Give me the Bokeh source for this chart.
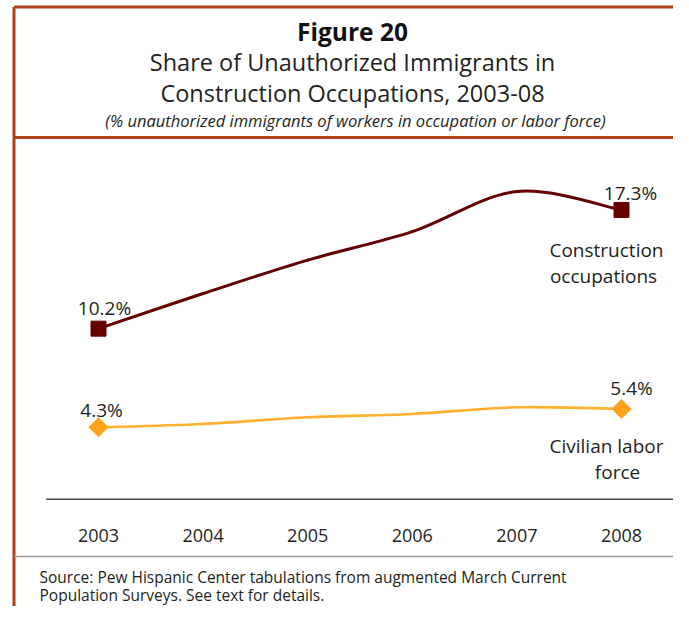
import numpy as np
from bokeh.plotting import figure
from bokeh.models import Range1d
from bokeh.core.properties import value
from bokeh.embed import file_html
from bokeh.resources import INLINE

# ---------------- data ----------------
years = [2003, 2004, 2005, 2006, 2007, 2008]
year_labels = ["2003", "2004", "2005", "2006", "2007", "2008"]
construction = [10.2, 12.3, 14.3, 16.0, 18.4, 17.3]
civilian = [4.3, 4.5, 4.9, 5.1, 5.5, 5.4]
construction_name = ["Construction", "occupations"]
civilian_name = ["Civilian labor", "force"]
fig_label = "Figure 20"
title_lines = ["Share of Unauthorized Immigrants in", "Construction Occupations, 2003-08"]
note = "(% unauthorized immigrants of workers in occupation or labor force)"
source_lines = ["Source:  Pew Hispanic Center tabulations from augmented March Current",
                "Population Surveys.  See text for details."]

# ---------------- layout ----------------
W, H = 673, 606
FONT = value("Open Sans")
TXT = "#231f20"
BORDER = "#b03f1c"
CON_COL = "#640000"
CIV_LINE = "#ffb02e"
CIV_MARK = "#ffa31f"

ppy = (621 - 98) / 5.0          # pixels per year
ppu = 16.72                      # pixels per percentage point
zero_px = 498.7                  # pixel row of 0 %
x_start = 2003 - 98 / ppy
x_end = x_start + W / ppy
y_end = zero_px / ppu
y_start = y_end - H / ppu


def px2x(px):
    return x_start + px / ppy


def px2y(py):
    return y_end - py / ppu


p = figure(width=W, height=H, output_backend="svg", toolbar_location=None,
           x_range=Range1d(x_start, x_end), y_range=Range1d(y_start, y_end),
           x_axis_location=None, y_axis_location=None, min_border=0)
p.outline_line_color = None
p.grid.visible = False
p.background_fill_color = "white"
p.border_fill_color = "white"

# ---------------- frame lines ----------------
p.segment(x0=[px2x(13.5), px2x(13.5), px2x(13.5)], y0=[px2y(6.5), px2y(137), px2y(6.5)],
          x1=[px2x(700), px2x(700), px2x(13.5)], y1=[px2y(6.5), px2y(137), px2y(640)],
          line_color=BORDER, line_width=3)
p.segment(x0=[px2x(13.5)], y0=[px2y(556)], x1=[px2x(700)], y1=[px2y(556)],
          line_color="#9a9a9a", line_width=1.5)

# ---------------- x axis ----------------
p.segment(x0=[years[0] - 0.5], y0=[0], x1=[years[-1] + 0.5], y1=[0],
          line_color="#4a4a4a", line_width=1.6)
p.text(x=years, y=[0] * len(years), text=year_labels, y_offset=36,
       text_font=FONT, text_font_size="18px", text_color=TXT,
       text_align="center", text_baseline="alphabetic")


# ---------------- smooth lines ----------------
def bezier(xs, ys, k=1 / 6.0):
    n = len(xs)
    out = {key: [] for key in ["x0", "y0", "x1", "y1", "cx0", "cy0", "cx1", "cy1"]}
    for i in range(n - 1):
        a = max(i - 1, 0)
        b = min(i + 2, n - 1)
        out["x0"].append(xs[i]); out["y0"].append(ys[i])
        out["x1"].append(xs[i + 1]); out["y1"].append(ys[i + 1])
        out["cx0"].append(xs[i] + (xs[i + 1] - xs[a]) * k)
        out["cy0"].append(ys[i] + (ys[i + 1] - ys[a]) * k)
        out["cx1"].append(xs[i + 1] - (xs[b] - xs[i]) * k)
        out["cy1"].append(ys[i + 1] - (ys[b] - ys[i]) * k)
    return out


p.bezier(**bezier(years, construction), line_color=CON_COL, line_width=3, line_cap="round")
p.bezier(**bezier(years, civilian), line_color=CIV_LINE, line_width=2.6, line_cap="round")

ends = [years[0], years[-1]]
p.scatter(x=ends, y=[construction[0], construction[-1]], marker="square", size=15,
          fill_color=CON_COL, line_color=CON_COL)
p.scatter(x=ends, y=[civilian[0], civilian[-1]], marker="square", angle=np.pi / 4, size=13.5,
          fill_color=CIV_MARK, line_color=CIV_MARK)

# value labels
p.text(x=ends, y=[construction[0], construction[-1]],
       text=[f"{construction[0]:.1f}%", f"{construction[-1]:.1f}%"],
       y_offset=[-21, -17], x_offset=[6, 9],
       text_font=FONT, text_font_size="19px", text_color=TXT,
       text_align="center", text_baseline="alphabetic")
p.text(x=ends, y=[civilian[0], civilian[-1]],
       text=[f"{civilian[0]:.1f}%", f"{civilian[-1]:.1f}%"],
       y_offset=[-17, -21], x_offset=[3, 10],
       text_font=FONT, text_font_size="19px", text_color=TXT,
       text_align="center", text_baseline="alphabetic")

# series names
p.text(x=[years[-1]] * 2, y=[construction[-1]] * 2, text=construction_name,
       x_offset=[-15, -18], y_offset=[40, 66],
       text_font=FONT, text_font_size="19px", text_color=TXT,
       text_align="center", text_baseline="alphabetic")
p.text(x=[years[-1]] * 2, y=[civilian[-1]] * 2, text=civilian_name,
       x_offset=[-15, -4], y_offset=[37, 63],
       text_font=FONT, text_font_size="19px", text_color=TXT,
       text_align="center", text_baseline="alphabetic")

# ---------------- titles ----------------
cx = px2x(352)
p.text(x=[cx], y=[px2y(31)], text=[fig_label], text_font=FONT, text_font_size="24.5px",
       text_font_style="bold", text_color="#111111", text_align="center", text_baseline="alphabetic")
p.text(x=[cx, cx], y=[px2y(61), px2y(92)], text=title_lines, text_font=FONT,
       text_font_size="23.5px", text_color=TXT, text_align="center", text_baseline="alphabetic")
p.text(x=[px2x(355)], y=[px2y(120)], text=[note], text_font=FONT, text_font_size="16.5px",
       text_font_style="italic", text_color=TXT, text_align="center", text_baseline="alphabetic")

# ---------------- source ----------------
p.text(x=[px2x(39)] * 2, y=[px2y(576), px2y(594)], text=source_lines, text_font=FONT,
       text_font_size="15.5px", text_color=TXT, text_align="left", text_baseline="alphabetic")

open("out.html", "w").write(file_html(p, INLINE))
